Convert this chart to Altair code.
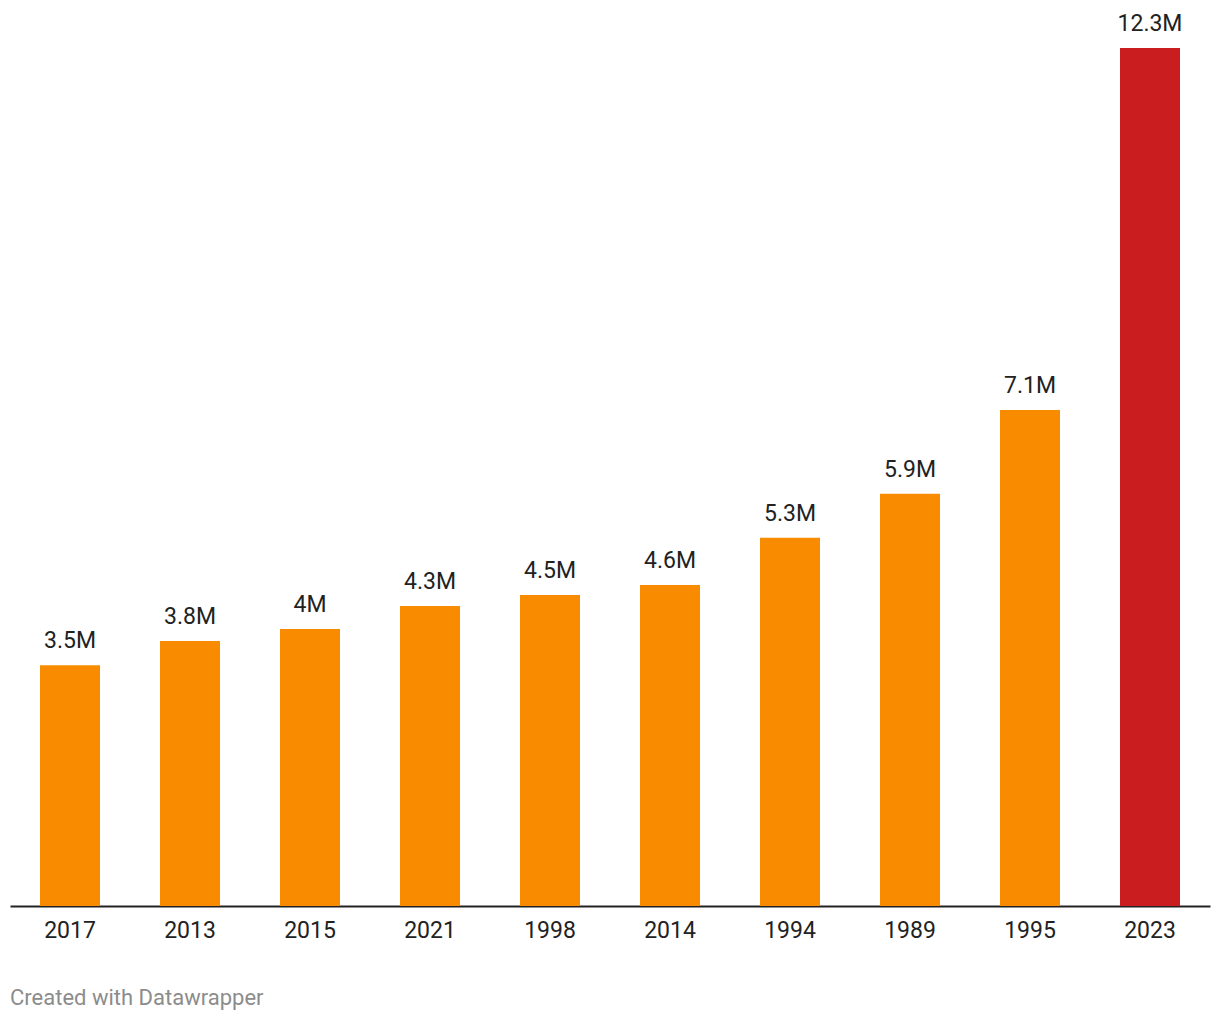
import altair as alt
import pandas as pd

years = ["2017", "2013", "2015", "2021", "1998", "2014", "1994", "1989", "1995", "2023"]
values = [3450000, 3800000, 3970000, 4300000, 4460000, 4600000, 5280000, 5910000, 7110000, 12300000]
labels = ["3.5M", "3.8M", "4M", "4.3M", "4.5M", "4.6M", "5.3M", "5.9M", "7.1M", "12.3M"]
highlight = [False] * 9 + [True]

df = pd.DataFrame({"year": years, "value": values, "label": labels, "hl": highlight})

x = alt.X("year:N", sort=years, title=None,
          scale=alt.Scale(paddingInner=0.5, paddingOuter=0.25),
          axis=alt.Axis(labelAngle=0, ticks=False, domainColor="#222222", domainWidth=2,
                        labelFont="Roboto", labelFontSize=23, labelColor="#222222",
                        labelPadding=13))
y = alt.Y("value:Q", scale=alt.Scale(domain=[0, 12300000], nice=False), axis=None)

bars = alt.Chart(df).mark_bar().encode(
    x=x, y=y,
    color=alt.Color("hl:N", scale=alt.Scale(domain=[False, True], range=["#F98B00", "#C91D1F"]), legend=None),
)
text = alt.Chart(df).mark_text(font="Roboto", fontSize=23, color="#222222",
                               baseline="alphabetic", dy=-17).encode(
    x=alt.X("year:N", sort=years), y=y, text="label:N")

chart = (bars + text).properties(
    width=1200, height=858,
    padding={"left": 2, "top": 40, "right": 2, "bottom": 110},
    autosize=alt.AutoSizeParams(type="none"),
    title=alt.TitleParams("Created with Datawrapper", orient="bottom", anchor="start",
                          font="Roboto", fontSize=22, fontWeight="normal", color="#8c8c8c",
                          offset=46),
).configure_view(stroke=None)

chart.save("out.html", embed_options={"renderer": "svg", "actions": False})
